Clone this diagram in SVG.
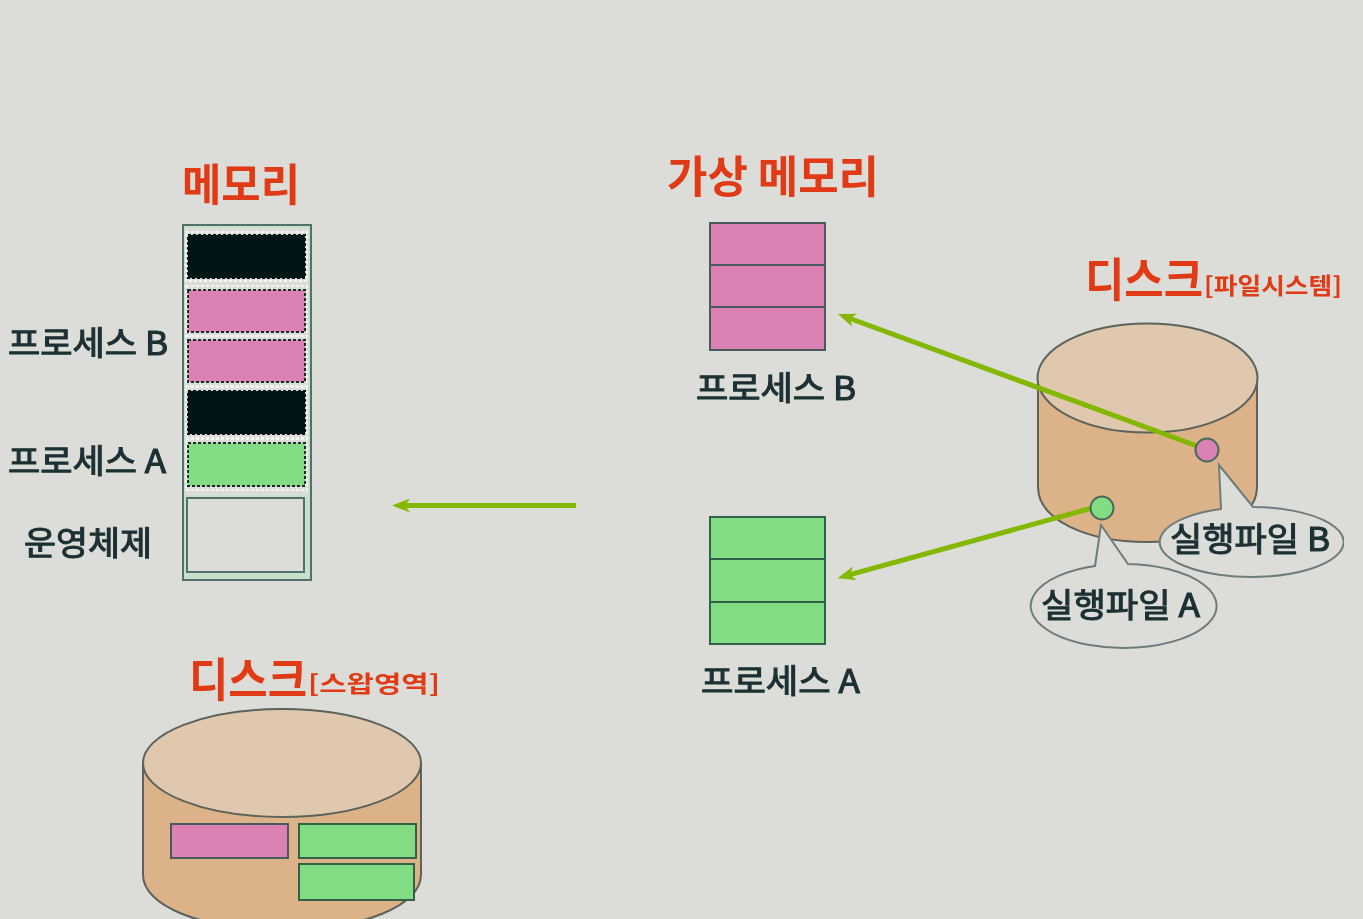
<svg xmlns="http://www.w3.org/2000/svg" width="1363" height="919" viewBox="0 0 1363 919">
<style>
text{font-family:"Noto Sans CJK KR","Liberation Sans",sans-serif}
.t{fill:#e03a12;font-weight:700}
.l{fill:#1c3034;font-size:33px;font-weight:400;stroke:#1c3034;stroke-width:1.100}
.side{fill:#dcb388;stroke:#5d625a;stroke-width:2}
.top{fill:#dfc8ae;stroke:#5d625a;stroke-width:2}
.p{fill:#db81b4;stroke:#4a5a5a;stroke-width:2}
.g{fill:#82dc84;stroke:#33604a;stroke-width:2}
.k{fill:#001414;stroke:#001414;stroke-width:2;stroke-dasharray:3 2}
.d{stroke:#1c2c2c;stroke-width:2;stroke-dasharray:3 2}
.h{fill:none;stroke:#f4f4f0;stroke-width:2;stroke-dasharray:3 2}
.c{fill:none;stroke:#84b800;stroke-width:5}
.b{fill:#dcddd9;stroke:#6f7c7a;stroke-width:2}
</style>
<defs>
<marker id="ah" markerUnits="userSpaceOnUse" markerWidth="20" markerHeight="16" refX="5" refY="7" orient="auto"><path d="M18 7L0 0L5 7L0 14Z" fill="#84b800"/></marker>
<filter id="soft" x="0" y="0" width="100%" height="100%"><feGaussianBlur stdDeviation="0.6"/></filter>
</defs>
<rect width="1363" height="919" fill="#dcddd9"/>
<g filter="url(#soft)">
<g id="memory">
<text class="t" x="182" y="201" font-size="44" textLength="118" lengthAdjust="spacingAndGlyphs">메모리</text>
<rect x="183" y="225" width="128" height="355" fill="#c6e0cc" stroke="#55706a" stroke-width="2"/>
<rect x="185" y="228" width="123" height="267" fill="#dcddd9"/>
<rect class="h" x="186" y="232" width="121" height="49"/>
<rect class="h" x="186" y="286" width="121" height="50"/>
<rect class="h" x="186" y="336" width="121" height="50"/>
<rect class="h" x="186" y="387" width="121" height="51"/>
<rect class="h" x="186" y="439" width="121" height="51"/>
<rect class="k" x="188" y="235" width="117" height="43"/>
<rect class="p d" x="188" y="290" width="117" height="42"/>
<rect class="p d" x="188" y="340" width="117" height="42"/>
<rect class="k" x="188" y="391" width="117" height="43"/>
<rect class="g d" x="188" y="443" width="117" height="43"/>
<rect x="187" y="498" width="117" height="74" fill="#dcddd9" stroke="#55706a" stroke-width="2"/>
<text class="l" x="8" y="355" textLength="160" lengthAdjust="spacingAndGlyphs">프로세스 B</text>
<text class="l" x="8" y="473" textLength="158" lengthAdjust="spacingAndGlyphs">프로세스 A</text>
<text class="l" x="24" y="555" textLength="128" lengthAdjust="spacingAndGlyphs">운영체제</text>
</g>
<g id="virtual-memory">
<text class="t" x="667" y="193" font-size="44" textLength="212" lengthAdjust="spacingAndGlyphs">가상 메모리</text>
</g>
<g id="process-b">
<rect class="p" x="710" y="223" width="115" height="42"/><rect class="p" x="710" y="265" width="115" height="42"/><rect class="p" x="710" y="307" width="115" height="43"/>
<text class="l" x="696" y="400" textLength="160" lengthAdjust="spacingAndGlyphs">프로세스 B</text>
</g>
<g id="process-a">
<rect class="g" x="710" y="517" width="115" height="42"/><rect class="g" x="710" y="559" width="115" height="43"/><rect class="g" x="710" y="602" width="115" height="42"/>
<text class="l" x="701" y="693" textLength="159" lengthAdjust="spacingAndGlyphs">프로세스 A</text>
</g>
<g id="disk-fs">
<text class="t" x="1085" y="296" font-size="46" textLength="118" lengthAdjust="spacingAndGlyphs">디스크</text>
<text class="t" x="1204" y="294" font-size="23" textLength="138" lengthAdjust="spacingAndGlyphs">[파일시스템]</text>
<path class="side" d="M1038 378V487C1038 520 1087 542 1147 542S1257 520 1257 487V378Z"/>
<ellipse class="top" cx="1147.500" cy="378" rx="110" ry="54.500"/>
</g>
<g id="connectors">
<path class="c" d="M576 505.500H405" marker-end="url(#ah)"/>
<path class="c" d="M1197 446L850 318.500" marker-end="url(#ah)"/>
<path class="c" d="M1092 508L850 574.700" marker-end="url(#ah)"/>
</g>
<g id="file-b">
<circle cx="1207" cy="450" r="11.500" fill="#db81b4" stroke="#4a6a5a" stroke-width="2"/>
<path class="b" d="M1219 465L1253 507A92 35 0 1 1 1221 509Z"/>
<text class="l" x="1170" y="551" textLength="160" lengthAdjust="spacingAndGlyphs">실행파일 B</text>
</g>
<g id="file-a">
<circle cx="1102" cy="508" r="11.500" fill="#82dc84" stroke="#4a6a5a" stroke-width="2"/>
<path class="b" d="M1101 525L1128 564A93 42 0 1 1 1095 566Z"/>
<text class="l" x="1041" y="617" textLength="159" lengthAdjust="spacingAndGlyphs">실행파일 A</text>
</g>
<g id="disk-swap">
<text class="t" x="189" y="696" font-size="46" textLength="118" lengthAdjust="spacingAndGlyphs">디스크</text>
<text class="t" x="308" y="692" font-size="23" textLength="132" lengthAdjust="spacingAndGlyphs">[스왑영역]</text>
<path class="side" d="M143 763V875C143 905 200 930 282 930S421 905 421 875V763Z"/>
<ellipse class="top" cx="282" cy="763" rx="139" ry="54"/>
<rect class="p" x="171" y="824" width="117" height="34"/>
<rect class="g" x="299" y="824" width="117" height="34"/>
<rect class="g" x="299" y="864" width="115" height="36"/>
</g>
</g>
</svg>
